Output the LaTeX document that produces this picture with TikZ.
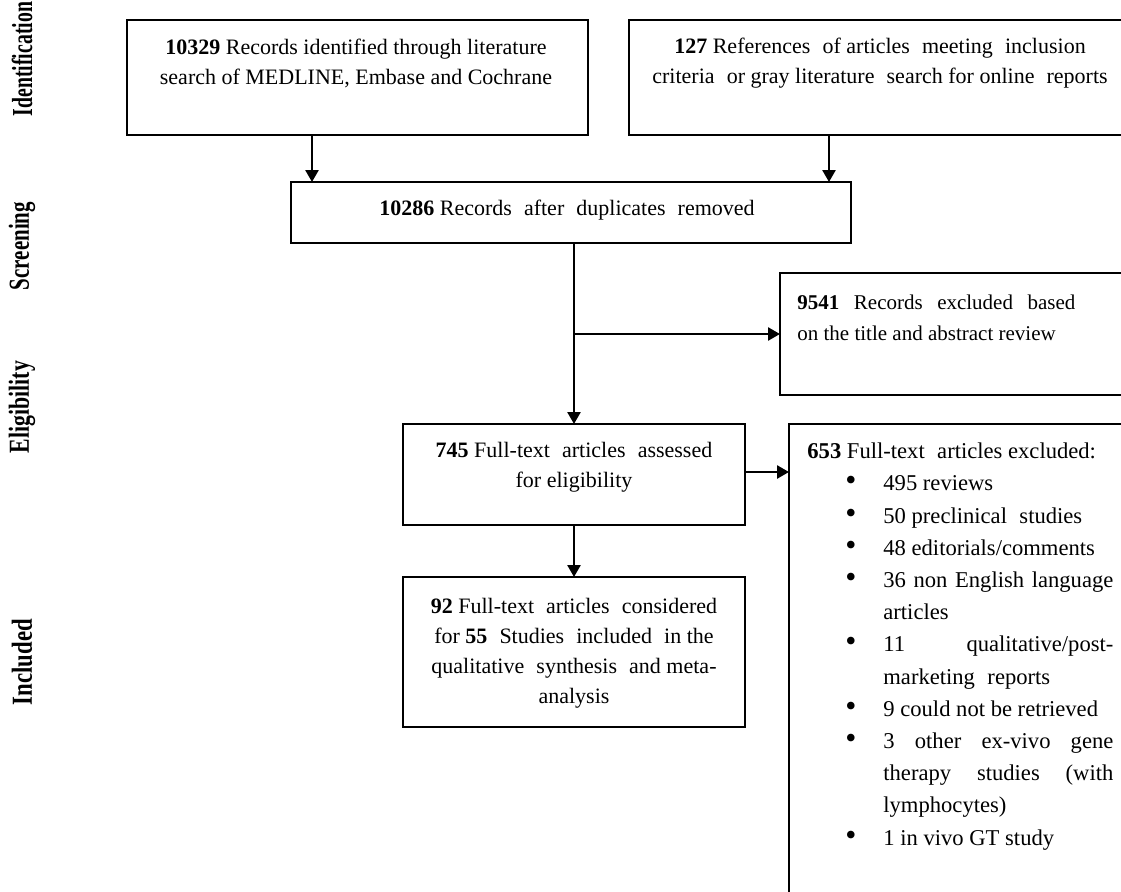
\documentclass[tikz,border=0pt]{standalone}
\usepackage{fontspec}
\setmainfont{Liberation Serif}
\usetikzlibrary{arrows.meta}
\newcommand\bul{\hspace*{19pt}\makebox[19pt][l]{\scalebox{1.4}{\textbullet}}}
\newcommand\cont{\hspace*{38pt}}
\newcommand\wsp{\hspace{0.55em}}
\begin{document}
\begin{tikzpicture}[x=0.5pt,y=-0.5pt,
  box/.style={draw, line width=1.3pt, inner sep=0pt, outer sep=0pt, rectangle},
  arr/.style={line width=1.3pt, -{Triangle[length=6pt,width=6.5pt]}},
  txt/.style={font=\fontsize{11}{15}\selectfont, align=center, inner sep=0pt},
  lab/.style={font=\fontsize{14.5}{14.5}\selectfont\bfseries, rotate=90, inner sep=0pt}]
\useasboundingbox (0,0) rectangle (1121,891);
\clip (0,0) rectangle (1121,891);
% boxes
\node[box, minimum width=230.5pt, minimum height=57.5pt] (b1) at (357.5,77.5) {};
\node[box, minimum width=255.5pt, minimum height=57.5pt] (b2) at (884.5,77.5) {};
\node[box, minimum width=280pt, minimum height=30.5pt] (b3) at (571,212.5) {};
\node[box, minimum width=180pt, minimum height=61pt] (b4) at (960,334) {};
\node[box, minimum width=171pt, minimum height=50.5pt] (b5) at (574,474.5) {};
\node[box, minimum width=171pt, minimum height=75pt] (b6) at (574,652) {};
\node[box, minimum width=175.5pt, minimum height=238pt] (b7) at (964.5,662) {};
% texts
\node[txt] (t1) at (356,63) {\textbf{10329} Records identified through literature\\search of MEDLINE, Embase and Cochrane};
\node[txt] (t2) at (880,63) {\textbf{127} References\wsp of articles\wsp meeting\wsp inclusion\\criteria\wsp or gray literature\wsp search for online\wsp reports};
\node[txt] (t3) at (567,210) {\textbf{10286} Records\wsp after\wsp duplicates\wsp removed};
\node[txt, font=\fontsize{10.5}{15.5}\selectfont, align=left, anchor=west] (t4) at (797,317.5)
  {\makebox[139pt][s]{\textbf{9541} Records excluded based}\\on the title and abstract review};
\node[txt] (t5) at (574,467.5) {\textbf{745} Full-text\wsp articles\wsp assessed\\for eligibility};
\node[txt] (t6) at (574,653.5) {\textbf{92} Full-text\wsp articles\wsp considered\\for \textbf{55}\wsp Studies\wsp included\wsp in the\\qualitative\wsp synthesis\wsp and meta-\\analysis};
\node[txt, font=\fontsize{11.3}{16.1}\selectfont, align=left, anchor=west] (t7) at (807,646.5)
  {\textbf{653} Full-text\wsp articles excluded:\\
   \bul 495 reviews\\
   \bul 50 preclinical\wsp studies\\
   \bul 48 editorials/comments\\
   \bul\makebox[115pt][s]{36 non English language}\\
   \cont articles\\
   \bul\makebox[115pt][s]{11 qualitative/post-}\\
   \cont marketing\wsp reports\\
   \bul 9 could not be retrieved\\
   \bul\makebox[115pt][s]{3 other ex-vivo gene}\\
   \cont\makebox[115pt][s]{therapy studies (with}\\
   \cont lymphocytes)\\
   \bul 1 in vivo GT study};
% side labels
\node[lab] (l1) at (22,59) {\resizebox{57pt}{\height}{Identification}};
\node[lab] (l2) at (22,246) {\resizebox{44pt}{\height}{Screening}};
\node[lab] (l3) at (22,407) {\resizebox{46pt}{\height}{Eligibility}};
\node[lab] (l4) at (22,662) {\resizebox{43pt}{\height}{Included}};
% connectors
\draw[arr] ([xshift=-22.75pt]b1.south) -- ([xshift=-22.75pt]b1.south |- b3.north);
\draw[arr] ([xshift=-27.75pt]b2.south) -- ([xshift=-27.75pt]b2.south |- b3.north);
\draw[arr] (b3.south -| b5.north) -- (b5.north);
\draw[arr] (b4.west -| b5.north) -- (b4.west);
\draw[arr] (b5.south) -- (b6.north);
\draw[arr] ([yshift=1.25pt]b5.east) -- ([yshift=1.25pt]b5.east -| b7.west);
\end{tikzpicture}
\end{document}
